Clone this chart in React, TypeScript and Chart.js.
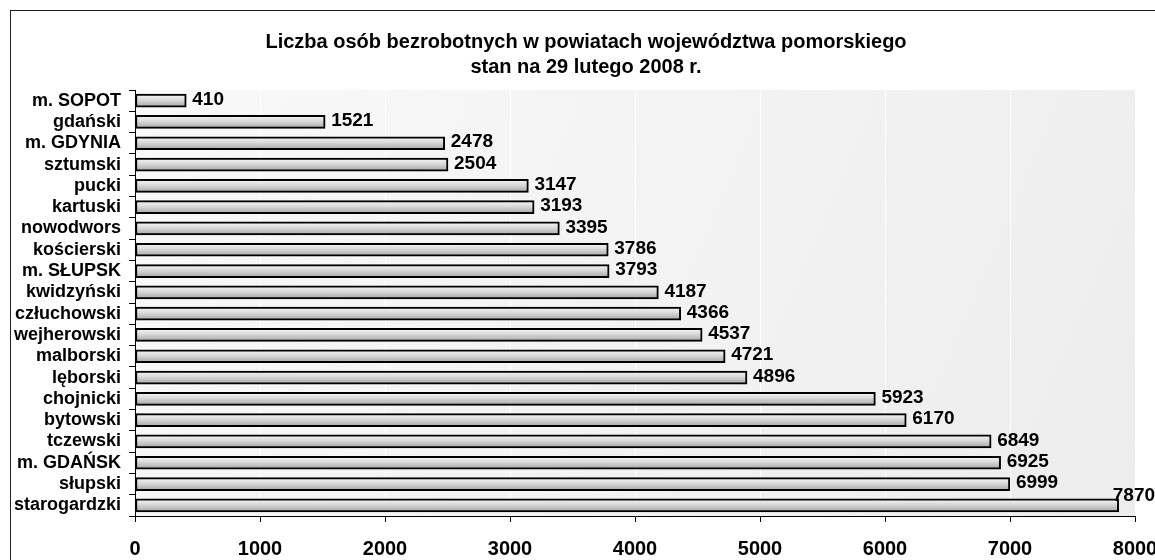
import React, { useEffect, useRef } from "react";
import { Chart, registerables } from "chart.js";

Chart.register(...registerables);

const TITLE_LINES = [
  "Liczba osób bezrobotnych w powiatach województwa pomorskiego",
  "stan na 29 lutego 2008 r.",
];

const categories = [
  "m. SOPOT",
  "gdański",
  "m. GDYNIA",
  "sztumski",
  "pucki",
  "kartuski",
  "nowodwors",
  "kościerski",
  "m. SŁUPSK",
  "kwidzyński",
  "człuchowski",
  "wejherowski",
  "malborski",
  "lęborski",
  "chojnicki",
  "bytowski",
  "tczewski",
  "m. GDAŃSK",
  "słupski",
  "starogardzki",
];

const values = [
  410, 1521, 2478, 2504, 3147, 3193, 3395, 3786, 3793, 4187, 4366, 4537, 4721,
  4896, 5923, 6170, 6849, 6925, 6999, 7870,
];

const xMin = 0;
const xMax = 8000;
const xStep = 1000;

const FONT = "'Liberation Sans', Arial, sans-serif";

const framePlugin = {
  id: "frame",
  beforeDraw(chart: any) {
    const { ctx, chartArea } = chart;
    ctx.save();
    ctx.fillStyle = "#ffffff";
    ctx.fillRect(0, 0, chart.width, chart.height);
    // outer border
    ctx.strokeStyle = "#222222";
    ctx.lineWidth = 1;
    ctx.strokeRect(10.5, 10.5, 1300, 700);
    // plot background
    const g = ctx.createLinearGradient(
      chartArea.left,
      chartArea.top,
      chartArea.right,
      chartArea.bottom
    );
    g.addColorStop(0, "#f9f9f9");
    g.addColorStop(1, "#ededed");
    ctx.fillStyle = g;
    ctx.fillRect(
      chartArea.left,
      chartArea.top,
      chartArea.right - chartArea.left,
      chartArea.bottom - chartArea.top
    );
    // title
    ctx.fillStyle = "#000";
    ctx.font = `bold 20px ${FONT}`;
    ctx.textAlign = "center";
    ctx.textBaseline = "middle";
    ctx.fillText(TITLE_LINES[0], 586, 42);
    ctx.fillText(TITLE_LINES[1], 586, 67);
    ctx.restore();
  },
  afterDatasetsDraw(chart: any) {
    const { ctx } = chart;
    const meta = chart.getDatasetMeta(0);
    ctx.save();
    ctx.fillStyle = "#000";
    ctx.font = `bold 19px ${FONT}`;
    ctx.textAlign = "left";
    ctx.textBaseline = "middle";
    meta.data.forEach((bar: any, i: number) => {
      const text = String(values[i]);
      const w = ctx.measureText(text).width;
      let x = bar.x + 6;
      let y = bar.y - 1;
      if (x + w > chart.width) {
        x = bar.x - 6;
        y = bar.y - 10;
      }
      ctx.fillText(text, x, y);
    });
    ctx.restore();
  },
};

export default function App() {
  const ref = useRef<HTMLCanvasElement | null>(null);

  useEffect(() => {
    if (!ref.current) return;
    const chart = new Chart(ref.current, {
      type: "bar",
      data: {
        labels: categories,
        datasets: [
          {
            data: values,
            borderColor: "#000",
            borderWidth: 2,
            borderSkipped: false,
            barThickness: 13,
            backgroundColor: (c: any) => {
              const ch = c.chart;
              const ys = ch.scales && ch.scales.y;
              if (!ys || c.type !== "data") return "#d0d0d0";
              const cy = ys.getPixelForValue(c.dataIndex);
              if (!isFinite(cy)) return "#d0d0d0";
              const g = ch.ctx.createLinearGradient(0, cy - 6, 0, cy + 6);
              g.addColorStop(0, "#f4f4f4");
              g.addColorStop(0.4, "#dcdcdc");
              g.addColorStop(1, "#a8a8a8");
              return g;
            },
          },
        ],
      },
      options: {
        indexAxis: "y",
        animation: false,
        responsive: true,
        maintainAspectRatio: false,
        layout: { padding: { left: 0, top: 90, right: 20, bottom: 0 } },
        plugins: {
          legend: { display: false },
          title: { display: false },
          tooltip: { enabled: false },
        },
        scales: {
          x: {
            min: xMin,
            max: xMax,
            ticks: {
              stepSize: xStep,
              color: "#000",
              font: { family: FONT, size: 20, weight: "bold" },
              padding: 15,
              maxRotation: 0,
              callback: (v: any) => String(v),
            },
            grid: {
              color: (c: any) =>
                c.index === 0 ? "rgba(0,0,0,0)" : "#ffffff",
              tickColor: "#000",
              tickLength: 6,
              lineWidth: 1,
            },
            border: { color: "#000", width: 1 },
            afterFit: (s: any) => {
              s.height = 44;
              s.paddingLeft = 0;
              s.paddingRight = 0;
            },
          },
          y: {
            ticks: {
              color: "#000",
              font: { family: FONT, size: 18, weight: "bold" },
              padding: 8,
              autoSkip: false,
            },
            grid: {
              drawOnChartArea: false,
              color: "#000",
              tickColor: "#000",
              tickLength: 6,
              offset: true,
            },
            border: { color: "#000", width: 1 },
            afterFit: (s: any) => {
              s.width = 135;
              s.paddingTop = 0;
              s.paddingBottom = 0;
            },
          },
        },
      },
      plugins: [framePlugin],
    } as any);
    return () => chart.destroy();
  }, []);

  return (
    <div
      style={{
        position: "fixed",
        left: 0,
        top: 0,
        width: 1155,
        height: 560,
      }}
    >
      <canvas ref={ref} />
    </div>
  );
}
